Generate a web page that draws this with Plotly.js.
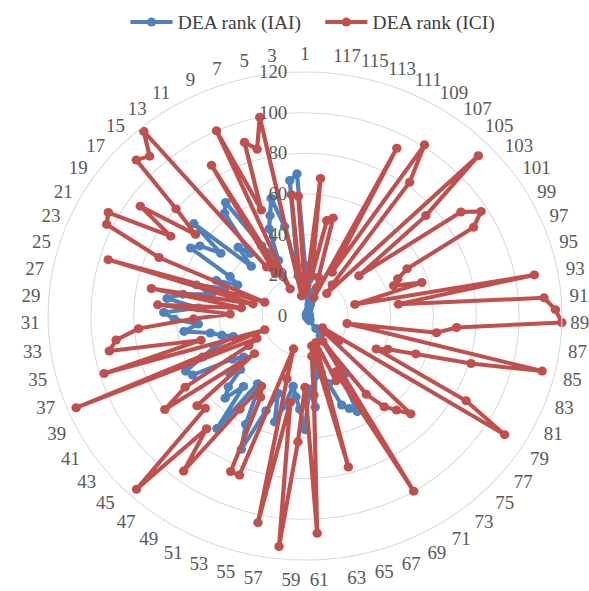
<!DOCTYPE html>
<html><head><meta charset="utf-8">
<script src="https://cdn.plot.ly/plotly-3.0.1.min.js"></script>
<style>
html,body{margin:0;padding:0;overflow:hidden;background:#fff;}
#chart{width:589px;height:591px;transform:scaleX(1.053);transform-origin:305px 0;}
</style></head><body><div id="chart"></div>
<script>
// Categories 1..118 (tick labels shown on odd categories)
const categories = Array.from({length:118}, (_, i) => String(i + 1));
const tickLabels = categories.filter((c, i) => i % 2 === 0);
const radialTicks = [0, 20, 40, 60, 80, 100, 120];

// DEA rank (IAI)
const iai = [
  25,70,67,20,45,60,52,46,30,35,
  40,67,63,40,46,35,69,50,60,63,
  40,35,45,40,53,45,58,65,50,66,
  61,50,57,45,40,35,45,52,62,60,
  40,35,45,40,50,55,45,69,40,45,
  60,72,50,40,54,45,35,40,46,56,
  36,45,30,20,29,35,47,50,53,31,
  34,12,8,3,2,2,3,2,1,2,
  1,2,1,2,1,1,2,2,1,1,
  2,1,2,1,2,1,1,2,2,1,
  1,2,1,2,2,1,2,2,3,4,
  6,8,6,8,10,12,18,22
];

// DEA rank (ICI)
const ici = [
  12,59,60,10,100,85,90,56,100,15,
  86,25,30,118,107,110,80,65,94,74,
  105,103,74,20,96,25,73,30,69,35,
  52,78,89,93,50,98,20,116,25,30,
  66,80,30,67,65,116,72,95,55,40,
  45,84,84,17,32,104,43,114,62,35,
  107,39,20,15,77,20,14,35,31,100,
  15,48,58,63,69,12,20,10,110,86,
  37,42,55,81,114,20,62,71,120,117,
  112,44,109,24,57,44,47,53,90,97,
  89,32,75,113,15,20,82,101,25,93,
  10,15,20,50,48,20,68,15
];

function closeLoop(a) { return a.concat([a[0]]); }

const traces = [
  {
    type: 'scatterpolar', mode: 'lines+markers', name: 'DEA rank (IAI)',
    theta: closeLoop(categories), r: closeLoop(iai),
    line: {color: '#4F81BD', width: 4},
    marker: {color: '#4F81BD', size: 9}
  },
  {
    type: 'scatterpolar', mode: 'lines+markers', name: 'DEA rank (ICI)',
    theta: closeLoop(categories), r: closeLoop(ici),
    line: {color: '#C0504D', width: 4},
    marker: {color: '#C0504D', size: 9}
  }
];

const layout = {
  width: 589, height: 591,
  margin: {l: 61, r: 40, t: 72, b: 31},
  paper_bgcolor: '#ffffff',
  font: {family: '"Liberation Serif", "Times New Roman", serif', size: 18, color: '#595959'},
  showlegend: true,
  legend: {
    orientation: 'h', xref: 'container', yref: 'container',
    x: 0.2279, xanchor: 'left', y: 0.9618, yanchor: 'middle',
    font: {size: 18.5, color: '#404040'}, itemwidth: 40,
    entrywidth: 130, entrywidthmode: 'pixels', bgcolor: 'rgba(0,0,0,0)'
  },
  polar: {
    domain: {x: [0, 1], y: [0, 1]},
    bgcolor: '#ffffff',
    angularaxis: {
      type: 'category', categoryarray: categories,
      direction: 'counterclockwise', rotation: 90,
      tickmode: 'array', tickvals: tickLabels, ticktext: tickLabels,
      showgrid: false, showline: true, linecolor: '#D9D9D9', linewidth: 1,
      ticks: 'outside', ticklen: 4, tickcolor: 'rgba(0,0,0,0)',
      tickfont: {size: 18, color: '#595959'}
    },
    radialaxis: {
      range: [0, 120], tickmode: 'array', tickvals: radialTicks,
      angle: 90, side: 'counterclockwise', tickangle: 90,
      showline: false, gridcolor: '#D9D9D9', gridwidth: 1,
      ticks: 'outside', ticklen: 10, tickcolor: 'rgba(0,0,0,0)',
      tickfont: {size: 18, color: '#595959'}
    }
  }
};

Plotly.newPlot('chart', traces, layout, {staticPlot: true, displayModeBar: false});
</script>
</body></html>
